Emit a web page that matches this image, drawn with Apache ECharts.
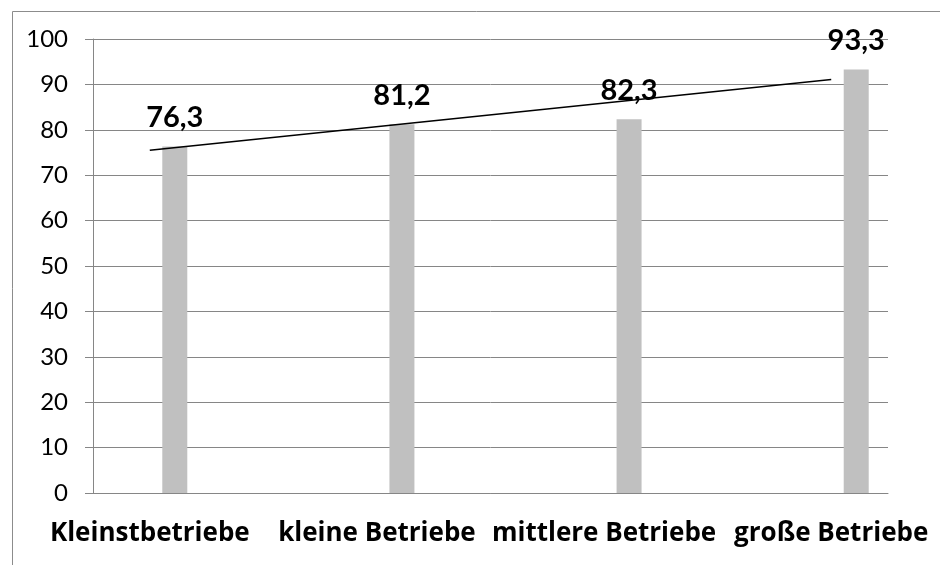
<!DOCTYPE html>
<html>
<head>
<meta charset="utf-8">
<script src="https://cdn.jsdelivr.net/npm/echarts@6/dist/echarts.min.js"></script>
<style>
  html, body { margin: 0; padding: 0; background: #fff; }
  #chart { width: 940px; height: 565px; }
</style>
</head>
<body>
<div id="chart"></div>
<script>
// Kategorien (leere Zwischenplätze wie im Excel-Original)
var categories = ['Kleinstbetriebe', '', 'kleine Betriebe', '', 'mittlere Betriebe', '', 'große Betriebe'];
var werte = [76.3, null, 81.2, null, 82.3, null, 93.3];
// Trendlinie, Endpunkte
var trend = [75.5, null, null, null, null, null, 91.1];
var leer = [null, null, null, null, null, null, null];

var chart = echarts.init(document.getElementById('chart'));

var option = {
    animation: false,
    textStyle: { fontFamily: 'Lato' },
    graphic: [{
        type: 'rect',
        left: 10, top: 9,
        shape: { width: 960, height: 600 },
        style: { fill: 'none', stroke: '#8c8c8c', lineWidth: 1 }
    }],
    grid: { left: 93, right: 52, top: 39, bottom: 72 },
    xAxis: {
        type: 'category',
        data: categories,
        axisLine: { lineStyle: { color: '#868686', width: 1 } },
        axisTick: { length: 9, lineStyle: { color: '#868686' } },
        axisLabel: {
            interval: 0,
            margin: 28,
            color: '#000',
            fontFamily: 'Open Sans',
            fontSize: 26,
            fontWeight: 'bold'
        }
    },
    yAxis: {
        type: 'value',
        min: 0, max: 100, interval: 10,
        axisLine: { show: true, lineStyle: { color: '#868686' } },
        axisTick: { show: true, length: 8, lineStyle: { color: '#868686' } },
        splitLine: { lineStyle: { color: '#868686' } },
        axisLabel: { margin: 25, color: '#000', fontSize: 24 }
    },
    series: [
        { type: 'bar', data: leer, barWidth: 25, barGap: '0%' },
        { type: 'bar', data: leer, barWidth: 25, barGap: '0%' },
        {
            type: 'bar',
            data: werte,
            barWidth: 25,
            barGap: '0%',
            itemStyle: { color: '#c0c0c0' },
            label: {
                show: true,
                position: 'top',
                distance: 14,
                color: '#000',
                fontSize: 29,
                fontWeight: 'bold',
                formatter: function (p) { return String(p.value).replace('.', ','); }
            }
        },
        {
            type: 'line',
            data: trend,
            connectNulls: true,
            showSymbol: false,
            symbol: 'none',
            z: 5,
            lineStyle: { color: '#000', width: 1.5 }
        }
    ]
};
chart.setOption(option);
</script>
</body>
</html>
